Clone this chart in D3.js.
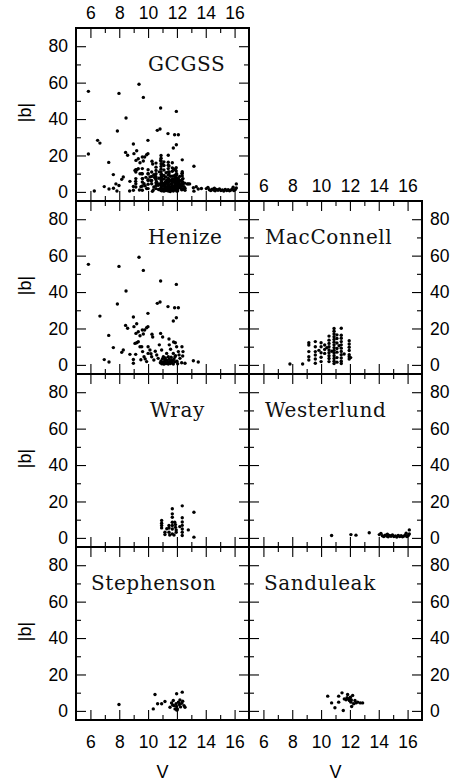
<!DOCTYPE html>
<html>
<head>
<meta charset="utf-8">
<script src="https://cdn.jsdelivr.net/npm/d3@7"></script>
<style>
body { margin: 0; background: #fff; }
</style>
</head>
<body>
<script>
// [V, |b|] pairs
var henize = [
    [5.86,55.2],[7.98,54.1],[9.37,59.1],[9.67,51.9],[8.47,40.6],[7.87,33.4],[10.87,46.1],[11.96,44.2],
    [6.66,26.8],[10.64,33.8],[10.83,34.5],[11.38,32.0],[11.84,31.4],[12.10,31.4],[11.96,25.9],[11.75,24.1],
    [9.99,28.3],[8.98,26.3],[7.27,16.2],[8.44,21.7],[8.58,20.1],[9.02,21.0],[9.21,22.6],[9.60,19.2],
    [9.76,19.2],[9.90,20.4],[9.99,21.0],[9.16,17.3],[9.32,18.2],[9.44,16.0],[9.67,17.0],[10.27,16.8],
    [10.32,15.3],[10.87,17.3],[11.01,15.3],[11.45,14.2],[11.77,12.6],[11.89,12.2],[12.35,10.0],[12.42,7.3],
    [7.59,9.5],[8.17,6.9],[8.28,8.2],[6.96,2.9],[7.29,1.6],[8.74,5.8],[8.98,0.9],[8.98,3.0],
    [9.14,5.8],[9.09,11.8],[9.21,12.2],[9.32,12.7],[9.44,10.0],[9.56,10.0],[9.62,7.3],[9.72,4.5],
    [9.90,1.8],[10.00,10.0],[10.13,8.2],[10.00,6.3],[10.25,4.5],[10.40,2.7],[10.60,5.4],[10.78,11.0],
    [10.94,8.2],[11.06,4.5],[11.17,2.7],[11.29,6.3],[11.40,4.5],[11.47,11.0],[11.56,8.6],[11.63,2.7],
    [11.75,6.3],[11.87,4.5],[11.98,10.0],[12.10,7.3],[12.21,3.6],[12.33,1.2],[12.56,0.9],[13.14,2.3],[13.48,1.6],
    [10.85,1.2],[10.90,2.2],[10.95,0.6],[11.00,3.4],[11.05,1.5],[11.10,0.4],[11.15,1.9],[11.20,3.8],
    [11.25,0.8],[11.30,2.5],[11.35,1.4],[11.40,0.5],[11.45,3.1],[11.50,1.8],[11.55,0.7],[11.60,4.2],
    [11.65,1.3],[11.70,2.4],[11.75,0.5],[11.80,3.3],[11.85,1.7],[11.90,5.1],[12.00,2.0],[12.05,0.6],
    [12.15,5.5],[10.70,3.6],[10.50,7.5],[10.20,6.1],[9.80,3.3],[9.50,2.8],[12.40,4.9]
]
var macConnell = [
    [7.84,0.5],[8.72,0.5],
    [9.15,12.2],[9.15,10.9],[9.15,7.3],[9.15,4.5],[9.15,2.7],
    [9.60,12.8],[9.60,10.0],[9.60,7.3],[9.60,5.4],[9.60,3.2],[9.60,0.9],
    [10.00,12.2],[10.00,10.0],[10.00,6.7],[10.00,4.2],[10.00,1.8],
    [10.25,10.9],[10.25,8.5],[10.25,6.3],
    [10.55,15.8],[10.55,13.6],[10.55,11.8],[10.55,10.0],[10.55,8.2],[10.55,6.7],[10.55,5.0],[10.55,3.5],[10.55,1.8],
    [10.90,20.0],[10.90,18.5],[10.90,17.0],[10.90,15.5],[10.90,14.0],[10.90,12.5],[10.90,11.0],
    [10.90,9.5],[10.90,8.0],[10.90,6.5],[10.90,5.0],[10.90,3.5],[10.90,2.0],[10.90,0.7],
    [11.10,16.5],[11.10,14.5],[11.10,12.0],[11.10,9.0],[11.10,7.0],[11.10,4.0],[11.10,1.5],
    [11.40,20.1],[11.40,16.3],[11.40,14.6],[11.40,12.8],[11.40,11.0],[11.40,9.2],[11.40,7.4],
    [11.40,5.6],[11.40,3.8],[11.40,2.0],[11.40,0.8],
    [11.95,13.3],[11.95,11.5],[11.95,9.7],[11.95,7.9],[11.95,5.6],[11.95,4.5],[11.95,3.2],
    [10.75,7.5],[11.25,10.5],[11.60,6.0],[12.05,4.0],[9.85,8.0],[10.40,9.5]
]
var westerlund = [
    [10.73,1.3],[12.07,1.8],[12.42,1.5],[13.34,2.8],[14.04,1.8],[14.15,2.5],[14.25,1.2],[14.35,0.8],
    [14.45,1.5],[14.55,1.0],[14.65,0.6],[14.75,1.3],[14.85,0.9],[14.95,1.6],[15.05,0.7],[15.15,1.1],
    [15.25,0.5],[15.35,1.4],[15.45,0.8],[15.55,1.2],[15.65,0.6],[15.75,1.0],[15.85,1.5],[15.95,0.7],
    [16.05,1.3],[16.12,2.2],[16.12,4.4],[14.60,2.0],[15.90,2.6]
]
var wray = [
    [11.68,16.0],[12.37,17.6],[13.18,14.1],[13.18,0.4],[12.79,4.4],
    [10.94,9.6],[10.94,8.1],[10.94,6.8],[10.94,5.5],[11.17,3.1],[11.17,1.8],
    [11.45,6.8],[11.45,5.4],[11.45,3.1],[11.50,1.6],
    [11.68,13.2],[11.68,11.3],[11.68,8.6],[11.68,6.8],[11.68,4.9],[11.68,2.2],
    [11.85,8.6],[11.90,7.3],[11.90,5.8],[11.95,4.4],[11.95,3.1],
    [12.37,11.1],[12.37,8.7],[12.37,6.9],[12.37,4.9],[12.37,3.1],[12.37,1.3],
    [12.20,6.2],[11.30,5.0],[11.80,1.6]
]
var stephenson = [
    [7.98,3.5],[10.48,9.0],[10.36,1.1],[10.66,3.9],[10.94,3.9],[11.17,5.2],[11.98,9.4],[12.37,10.3],
    [11.52,2.0],[11.63,4.4],[11.75,5.7],[11.80,2.9],[11.87,1.1],[11.94,3.9],[11.98,2.4],[12.03,1.1],
    [12.10,4.8],[12.17,3.5],[12.21,6.0],[12.33,4.2],[12.40,5.3],[12.49,2.9],[12.56,2.0],[11.70,3.2],
    [12.00,0.4],[12.25,2.2]
]
var sanduleak = [
    [10.46,8.1],[10.73,4.4],[10.96,1.7],[11.22,4.8],[11.22,8.1],[11.45,9.9],[11.54,0.2],
    [11.61,6.6],[11.73,6.1],[11.84,9.0],[11.89,6.6],[11.96,5.7],[12.03,7.5],[12.07,4.8],[12.12,2.4],
    [12.19,8.5],[12.26,3.9],[12.35,5.7],[12.42,4.4],[12.54,4.8],[12.72,4.4],[12.88,4.4],
    [12.00,6.5],[12.10,6.0],[11.80,7.2]
]
// stars only in the general catalogue
var gcgssOnly = [[5.86,20.8],[6.27,0.5],[6.50,28.3],[7.77,4.4],[7.60,2.0],[13.70,1.9],[9.40,1.0],[10.30,0.3]]

var gcgss = [].concat(henize, macConnell, westerlund, wray, stephenson, sanduleak, gcgssOnly)

var xMajor = [6, 8, 10, 12, 14, 16]
var xMinor = [7, 9, 11, 13, 15]
var yMajor = [0, 20, 40, 60, 80]
var yMinor = [10, 30, 50, 70]

// col, row, label offset, which sides get tick labels
var panels = [
    {name: "GCGSS", data: gcgss, col: 0, row: 0, lx: 72, top: true, left: true},
    {name: "Henize", data: henize, col: 0, row: 1, lx: 72, left: true},
    {name: "Wray", data: wray, col: 0, row: 2, lx: 74, left: true},
    {name: "Stephenson", data: stephenson, col: 0, row: 3, lx: 15, left: true, bottom: true},
    {name: "MacConnell", data: macConnell, col: 1, row: 1, lx: 16, top: true, right: true},
    {name: "Westerlund", data: westerlund, col: 1, row: 2, lx: 16, right: true},
    {name: "Sanduleak", data: sanduleak, col: 1, row: 3, lx: 15, right: true, bottom: true}
]

var W = 451, H = 781
var size = 173, left0 = 76, top0 = 28
var sans = "'Liberation Sans', Arial, sans-serif"

var svg = d3.select("body")
    .append("svg")
    .attr("width", W)
    .attr("height", H)

var x = d3.scaleLinear().domain([5, 17]).range([0, size])
var y = d3.scaleLinear().domain([-5, 90]).range([size, 0])

function styleAxis(g) {
    g.select(".domain").remove()
    g.selectAll("line").attr("stroke", "#000").attr("stroke-width", 1.1)
    g.selectAll("text")
        .attr("fill", "#000")
        .style("font-family", sans)
        .style("font-size", "17.5px")
}

panels.forEach(function (p) {
    var g = svg.append("g")
        .attr("transform", "translate(" + (left0 + p.col * size) + "," + (top0 + p.row * size) + ")")

    var sides = [
        {axis: d3.axisBottom, pos: [0, size], sc: x, ma: xMajor, mi: xMinor, lab: p.bottom, pad: 16},
        {axis: d3.axisTop, pos: [0, 0], sc: x, ma: xMajor, mi: xMinor, lab: p.top, pad: 9},
        {axis: d3.axisLeft, pos: [0, 0], sc: y, ma: yMajor, mi: yMinor, lab: p.left, pad: 8},
        {axis: d3.axisRight, pos: [size, 0], sc: y, ma: yMajor, mi: yMinor, lab: p.right, pad: 8}
    ]
    sides.forEach(function (s) {
        g.append("g")
            .attr("transform", "translate(" + s.pos[0] + "," + s.pos[1] + ")")
            .call(s.axis(s.sc).tickValues(s.mi).tickSizeInner(-5).tickSizeOuter(0).tickFormat(""))
            .call(styleAxis)
        g.append("g")
            .attr("transform", "translate(" + s.pos[0] + "," + s.pos[1] + ")")
            .call(s.axis(s.sc).tickValues(s.ma).tickSizeInner(-10).tickSizeOuter(0)
                .tickPadding(s.pad).tickFormat(s.lab ? d3.format("d") : ""))
            .call(styleAxis)
    })

    g.selectAll("circle")
        .data(p.data)
        .enter()
        .append("circle")
        .attr("cx", function (d) { return x(d[0]) })
        .attr("cy", function (d) { return y(d[1]) })
        .attr("r", 1.7)
        .attr("fill", "#000")

    g.append("rect")
        .attr("width", size)
        .attr("height", size)
        .attr("fill", "none")
        .attr("stroke", "#000")
        .attr("stroke-width", 2)

    g.append("text")
        .attr("x", p.lx)
        .attr("y", 43)
        .text(p.name)
        .style("font-family", "'DejaVu Serif', serif")
        .style("font-size", "20px")
        .style("letter-spacing", "0.6px")
        .attr("fill", "#111")

    if (p.left) {
        g.append("text")
            .attr("transform", "translate(" + (25 - left0) + "," + (size / 2 - 2) + ") rotate(-90)")
            .attr("text-anchor", "middle")
            .attr("dy", "0.35em")
            .text("|b|")
            .style("font-family", sans)
            .style("font-size", "18px")
    }
    if (p.bottom) {
        g.append("text")
            .attr("x", size / 2)
            .attr("y", size + 58)
            .attr("text-anchor", "middle")
            .text("V")
            .style("font-family", sans)
            .style("font-size", "18px")
    }
})
</script>
</body>
</html>
